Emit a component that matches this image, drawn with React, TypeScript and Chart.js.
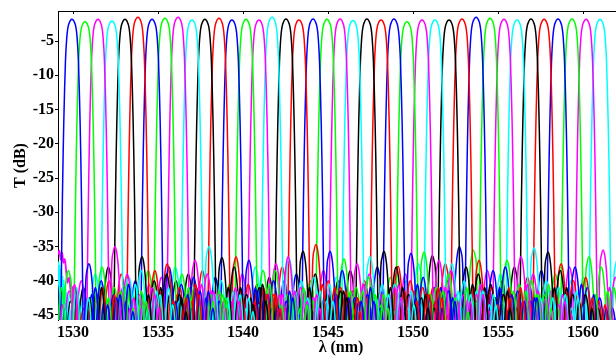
import React, { useEffect, useRef } from "react";
import { Chart, registerables } from "chart.js";

Chart.register(...registerables);

// ---- data ----
const channelCenters = [
  1529.94, 1530.71, 1531.47, 1532.29, 1533.06, 1533.82, 1534.65, 1535.41,
  1536.18, 1537.0, 1537.76, 1538.59, 1539.35, 1540.18, 1540.94, 1541.71,
  1542.53, 1543.29, 1544.12, 1544.94, 1545.71, 1546.47, 1547.29, 1548.12,
  1548.88, 1549.65, 1550.53, 1551.29, 1552.12, 1552.88, 1553.71, 1554.53,
  1555.35, 1556.12, 1556.94, 1557.71, 1558.53, 1559.35, 1560.18, 1561.0,
];
const channelPeaks = [
  -1.84, -2.18, -1.84, -2.08, -1.84, -1.54, -1.84, -1.69, -1.54, -1.93,
  -1.84, -1.69, -1.93, -1.84, -1.93, -1.54, -1.8, -1.93, -1.8, -1.84,
  -1.8, -2.0, -1.8, -1.93, -1.8, -2.18, -1.93, -1.93, -1.93, -1.8,
  -1.54, -1.69, -1.84, -1.93, -1.8, -1.84, -1.8, -1.8, -1.84, -1.84,
];
const channelColors = ["#0000ff", "#00ff00", "#ff00ff", "#00ffff", "#000000", "#ff0000"];

// main lobe shape (offset from centre in nm, drop below peak in dB)
const lobeOffsets = [0, 0.08, 0.15, 0.22, 0.28, 0.33, 0.38, 0.43, 0.48, 0.52, 0.56, 0.6, 0.64, 0.67];
const lobeDrops = [0, 0.12, 0.45, 1.0, 2.0, 3.6, 6.0, 10, 15, 20, 26, 33, 41, 47];

// crosstalk side lobes: centre offsets (nm), arch shape, per-channel levels (dB)
const sideOffsets = [-3.2, -2.45, -1.7, -0.98, 1.0, 1.72, 2.45, 3.2, 3.95];
const archOffsets = [-0.36, -0.28, -0.19, -0.1, 0, 0.1, 0.19, 0.28, 0.36];
const archDrops = [12, 6.5, 2.8, 0.8, 0, 0.8, 2.8, 6.5, 12];
const lobeEdge = 0.72;
const nullLevel = -48;
const sideLevels = [
  [-44, -42, -41, -39.5, -37.5, -40, -42, -43, -44.5],
  [-45, -43, -40, -38.5, -38, -41, -40.5, -43.5, -45],
  [-43, -44, -41.5, -40, -35, -39, -42, -41, -44],
  [-44.5, -42, -43, -39, -39.5, -38.5, -42.5, -44, -43],
  [-43, -41, -42, -38, -36.5, -40, -39, -42, -44],
  [-44, -43, -40, -39, -38.5, -37.5, -41, -43, -45],
  [-42, -44, -41, -40, -38, -40.5, -39.5, -42.5, -43],
  [-45, -41.5, -42, -38.5, -39, -41, -43, -41.5, -44],
  [-43.5, -42.5, -40.5, -39.5, -37, -39, -42, -43, -45],
  [-44, -43, -41, -38, -35, -40, -41.5, -44, -43.5],
  [-42.5, -44, -40, -39, -36.6, -38, -42, -41, -44],
  [-45, -42, -41.5, -38.5, -36.5, -40.5, -43, -42, -44],
  [-43, -41, -42.5, -39.5, -37, -41, -40, -43, -45],
  [-44, -43.5, -40, -40.5, -38.5, -38.5, -42, -44, -43],
  [-42, -44, -41, -39, -37.5, -36.5, -41, -42.5, -44.5],
  [-44.5, -42, -42, -38, -36.8, -40, -39.5, -43, -44],
  [-43, -43, -40.5, -39.5, -35.7, -39, -42, -41.5, -45],
  [-44, -41.5, -41.5, -38, -34.7, -40, -41, -44, -43],
  [-45, -43, -40, -39, -35.7, -38.5, -42.5, -42, -44],
  [-42.5, -44, -42, -40, -36.8, -41, -39.5, -43.5, -44.5],
  [-44, -42.5, -41, -38.5, -37.5, -39, -42, -41, -45],
  [-43, -41, -42.5, -39.5, -36.5, -40.5, -40.5, -44, -43.5],
  [-44.5, -43.5, -40, -38.5, -35.7, -38, -42, -42.5, -44],
  [-42, -44, -41.5, -40, -37.9, -40, -41, -43, -45],
  [-45, -42, -40.5, -38, -36, -39.5, -43, -41.5, -44],
  [-43, -43, -42, -39.5, -35.8, -41, -39, -44, -43],
  [-44, -41.5, -41, -39, -37, -38.5, -42, -42, -44.5],
  [-43.5, -44, -40, -37.5, -37.5, -40, -41.5, -43.5, -45],
  [-42, -42.5, -42.5, -36.3, -38, -39, -40.5, -42, -44],
  [-45, -43, -41, -37.5, -37, -41, -42, -44, -43],
  [-43, -41, -40, -35, -38.5, -38, -41.5, -43, -45],
  [-44, -44, -42, -35.5, -37, -40.5, -40, -42, -44],
  [-42.5, -42, -41, -38.5, -36.5, -39, -42.5, -43.5, -45],
  [-44.5, -43, -41.5, -39, -35.2, -40, -41, -44, -43.5],
  [-43, -41.5, -40, -38, -35.8, -38.5, -42, -42, -44],
  [-44, -43.5, -42, -39.5, -37.5, -40, -39.5, -43, -45],
  [-42, -44, -40.5, -38.5, -38, -41, -42.5, -44, -44],
  [-45, -42, -41, -39, -36.5, -38, -41, -42.5, -43],
  [-43.5, -43, -42.5, -38, -35.5, -39.5, -42, -44, -45],
  [-44, -41.5, -40, -39.5, -37, -40, -43, -42, -44],
];

// smaller ripples of the crosstalk floor, between the side lobes
const minorOffsets = [-3.55, -2.82, -2.08, -1.38, 1.38, 2.1, 2.83, 3.58];
const minorArchOffsets = [-0.22, -0.15, -0.08, 0, 0.08, 0.15, 0.22];
const minorArchDrops = [8, 3.5, 1, 0, 1, 3.5, 8];
const minorLevels = [
  [-44, -43, -41.5, -42, -41, -43.5, -42, -44.5],
  [-43, -44.5, -42, -41, -42.5, -41.5, -44, -43],
  [-45, -42, -43.5, -40.5, -41.5, -42.5, -43, -44],
  [-42.5, -43.5, -41, -42.5, -40.5, -44, -42, -43.5],
  [-44, -41.5, -42.5, -41, -42, -41, -43.5, -44.5],
  [-43.5, -44, -41, -42, -41.5, -43, -42.5, -42],
  [-42, -43, -42.5, -40.5, -43, -42, -41.5, -44],
  [-44.5, -42.5, -41.5, -41.5, -41, -43.5, -43, -42.5],
  [-43, -44, -43, -42, -40.5, -41.5, -44, -43],
  [-42.5, -42, -41.5, -41, -42, -42.5, -42, -44.5],
  [-44, -43.5, -42, -42.5, -41, -41, -43.5, -43],
  [-43, -42.5, -43.5, -40.5, -42.5, -43, -42, -44],
  [-45, -44, -41, -41.5, -41, -42, -44.5, -42.5],
  [-42, -43, -42, -42, -40.5, -43.5, -42.5, -43.5],
  [-43.5, -41.5, -43, -41, -42, -41.5, -43, -44],
  [-44, -44, -41.5, -42.5, -41.5, -42.5, -41.5, -43],
  [-42.5, -42.5, -42.5, -40.5, -41, -43, -44, -42.5],
  [-43, -43.5, -41, -42, -40.5, -41, -42.5, -44.5],
  [-44.5, -42, -43.5, -41.5, -42, -42.5, -43, -43],
  [-43, -44, -42, -41, -41.5, -41.5, -42, -44],
  [-42, -43, -41.5, -42, -40.5, -43.5, -44, -42.5],
  [-44, -41.5, -43, -40.5, -42.5, -42, -42.5, -43.5],
  [-43.5, -43.5, -42, -41.5, -41, -41, -43.5, -44],
  [-42.5, -44.5, -41.5, -42.5, -41.5, -43, -42, -42.5],
  [-44, -42, -43, -41, -40.5, -42.5, -44, -43],
  [-43, -43, -41, -42, -42, -41.5, -42.5, -44.5],
  [-45, -42.5, -42.5, -40.5, -41, -43, -43, -42],
  [-42, -44, -41.5, -41.5, -41.5, -42, -41.5, -43.5],
  [-43.5, -43, -43, -42, -40.5, -41, -44, -44],
  [-44, -41.5, -42, -41, -42, -43.5, -42.5, -43],
  [-42.5, -43.5, -41, -42.5, -41, -42, -43, -42.5],
  [-43, -44, -43.5, -41, -41.5, -41.5, -42, -44],
  [-44.5, -42, -42, -40.5, -40.5, -43, -44.5, -43],
  [-42, -43, -41.5, -42, -42.5, -42.5, -42, -42.5],
  [-43.5, -44.5, -42.5, -41.5, -41, -41, -43, -44],
  [-44, -42.5, -41, -41, -41.5, -43.5, -42.5, -43.5],
  [-43, -43, -43, -42.5, -40.5, -42, -44, -42],
  [-42.5, -44, -42, -40.5, -42, -41.5, -41.5, -44.5],
  [-44, -41.5, -41.5, -42, -41, -43, -43.5, -43],
  [-43, -43.5, -42.5, -41.5, -41.5, -42, -42, -44],
];

// noisy measurement floor at the short-wavelength edge
const edgeCyanX = [
  1529.12, 1529.135, 1529.15, 1529.165, 1529.18, 1529.195, 1529.21, 1529.225, 1529.24, 1529.255,
  1529.27, 1529.285, 1529.3, 1529.315, 1529.33, 1529.345, 1529.36, 1529.375, 1529.39, 1529.405,
  1529.42, 1529.435, 1529.45, 1529.465, 1529.48, 1529.495, 1529.51, 1529.525, 1529.54, 1529.555,
  1529.57, 1529.585, 1529.6, 1529.62, 1529.64, 1529.66, 1529.68, 1529.71, 1529.74, 1529.77,
  1529.8, 1529.84, 1529.88, 1529.93,
];
const edgeCyanY = [
  -37.2, -46, -37.4, -46, -37.7, -46, -37.9, -46, -38.2, -46,
  -38.4, -46, -38.7, -46, -39.0, -46, -39.3, -46, -39.6, -46,
  -39.9, -46, -40.2, -46, -40.5, -46, -40.8, -46, -41.1, -46,
  -41.4, -46, -41.7, -46, -42.1, -46, -42.5, -46, -43.0, -46,
  -43.6, -46, -44.3, -46,
];
const edgeMagentaX = [1529.12, 1529.2, 1529.28, 1529.36, 1529.44, 1529.52, 1529.6, 1529.68, 1529.78, 1529.88, 1529.98, 1530.08, 1530.2];
const edgeMagentaY = [-36.2, -35.6, -36.9, -35.9, -37.4, -36.8, -38.6, -40.3, -39.5, -41.8, -40.9, -43.5, -46];

const xTicks = [1530, 1535, 1540, 1545, 1550, 1555, 1560];
const yTicks = [-45, -40, -35, -30, -25, -20, -15, -10, -5];
const xRange = [1529.12, 1561.94];
const yRange = [-45.73, -0.62];
const xTitle = "λ (nm)";
const yTitle = "T (dB)";

const FONT = "'Liberation Serif', 'Times New Roman', serif";

function channelPoints(i: number) {
  const c = channelCenters[i];
  const p = channelPeaks[i];
  const pts: { x: number; y: number }[] = [];
  sideOffsets.forEach((o, k) => {
    archOffsets.forEach((a, j) => {
      const off = o + a;
      if (Math.abs(off) > lobeEdge + 0.02) pts.push({ x: c + off, y: sideLevels[i][k] - archDrops[j] });
    });
  });
  pts.push({ x: c - lobeEdge, y: nullLevel });
  pts.push({ x: c + lobeEdge, y: nullLevel });
  lobeOffsets.forEach((o, k) => {
    pts.push({ x: c - o, y: p - lobeDrops[k] });
    if (o > 0) pts.push({ x: c + o, y: p - lobeDrops[k] });
  });
  pts.sort((a, b) => a.x - b.x);
  return pts;
}

function minorPoints(i: number) {
  const c = channelCenters[i];
  const pts: { x: number; y: number }[] = [];
  minorOffsets.forEach((o, k) => {
    pts.push({ x: c + o - 0.26, y: nullLevel });
    minorArchOffsets.forEach((a, j) => pts.push({ x: c + o + a, y: minorLevels[i][k] - minorArchDrops[j] }));
    pts.push({ x: c + o + 0.26, y: nullLevel });
  });
  return pts;
}

const framePlugin = {
  id: "frame",
  afterDraw(chart: any) {
    const { ctx, chartArea, scales } = chart;
    ctx.save();
    ctx.strokeStyle = "#000";
    ctx.lineWidth = 1;
    ctx.beginPath();
    ctx.moveTo(chartArea.left, Math.round(chartArea.top) + 0.5);
    ctx.lineTo(chartArea.right, Math.round(chartArea.top) + 0.5);
    xTicks.forEach((v) => {
      const px = Math.round(scales.x.getPixelForValue(v)) + 0.5;
      ctx.moveTo(px, chartArea.top);
      ctx.lineTo(px, chartArea.top + 3);
    });
    ctx.stroke();

    ctx.fillStyle = "#000";
    ctx.font = `bold 16px ${FONT}`;
    ctx.textAlign = "center";
    ctx.textBaseline = "alphabetic";
    ctx.fillText(xTitle, 341, 352);

    ctx.translate(25, (chartArea.top + chartArea.bottom) / 2);
    ctx.rotate(-Math.PI / 2);
    ctx.fillText(yTitle, 0, 0);
    ctx.restore();
  },
};

export default function App() {
  const canvasRef = useRef<HTMLCanvasElement | null>(null);

  useEffect(() => {
    document.body.style.margin = "0";
    const canvas = canvasRef.current;
    if (!canvas) return;

    const lineStyle = {
      pointRadius: 0,
      fill: false,
      cubicInterpolationMode: "monotone",
      tension: 0.4,
    };
    const datasets: any[] = [];
    channelCenters.forEach((_, i) => {
      datasets.push({
        ...lineStyle,
        data: minorPoints(i),
        borderColor: channelColors[i % channelColors.length],
        borderWidth: 1.5,
      });
    });
    channelCenters.forEach((_, i) => {
      datasets.push({
        ...lineStyle,
        data: channelPoints(i),
        borderColor: channelColors[i % channelColors.length],
        borderWidth: 1.5,
      });
    });
    datasets.push({
      ...lineStyle,
      data: edgeMagentaX.map((x, k) => ({ x, y: edgeMagentaY[k] })),
      borderColor: "#ff00ff",
      borderWidth: 1.8,
    });
    datasets.push({
      data: edgeCyanX.map((x, k) => ({ x, y: edgeCyanY[k] })),
      borderColor: "#00ffff",
      borderWidth: 1.5,
      pointRadius: 0,
      fill: false,
      tension: 0,
    });

    const chart = new Chart(canvas, {
      type: "line",
      data: { datasets },
      plugins: [framePlugin],
      options: {
        animation: false,
        responsive: false,
        devicePixelRatio: 1,
        layout: { padding: { top: 11, left: 0, right: 0, bottom: 0 } },
        plugins: { legend: { display: false }, tooltip: { enabled: false } },
        scales: {
          x: {
            type: "linear",
            min: xRange[0],
            max: xRange[1],
            afterBuildTicks: (scale: any) => {
              scale.ticks = xTicks.map((v) => ({ value: v }));
            },
            afterFit: (scale: any) => {
              scale.height = 39;
            },
            grid: { display: false, drawTicks: false },
            border: { display: false },
            ticks: {
              padding: 3,
              color: "#000",
              font: { family: FONT, size: 16, weight: "bold" },
              callback: (v: any) => String(v),
              maxRotation: 0,
              autoSkip: false,
            },
          },
          y: {
            type: "linear",
            min: yRange[0],
            max: yRange[1],
            afterBuildTicks: (scale: any) => {
              scale.ticks = yTicks.map((v) => ({ value: v }));
            },
            afterFit: (scale: any) => {
              scale.width = 58;
            },
            grid: {
              display: true,
              drawOnChartArea: false,
              drawTicks: true,
              tickLength: 3,
              color: "#000",
              lineWidth: 1,
            },
            border: { display: true, color: "#000", width: 1 },
            ticks: {
              padding: 1,
              color: "#000",
              font: { family: FONT, size: 16, weight: "bold" },
              callback: (v: any) => String(v),
              autoSkip: false,
            },
          },
        },
      },
    });
    return () => chart.destroy();
  }, []);

  return (
    <div style={{ position: "absolute", left: 0, top: 0, width: 616, height: 359 }}>
      <canvas ref={canvasRef} width={616} height={359} style={{ display: "block" }} />
    </div>
  );
}
